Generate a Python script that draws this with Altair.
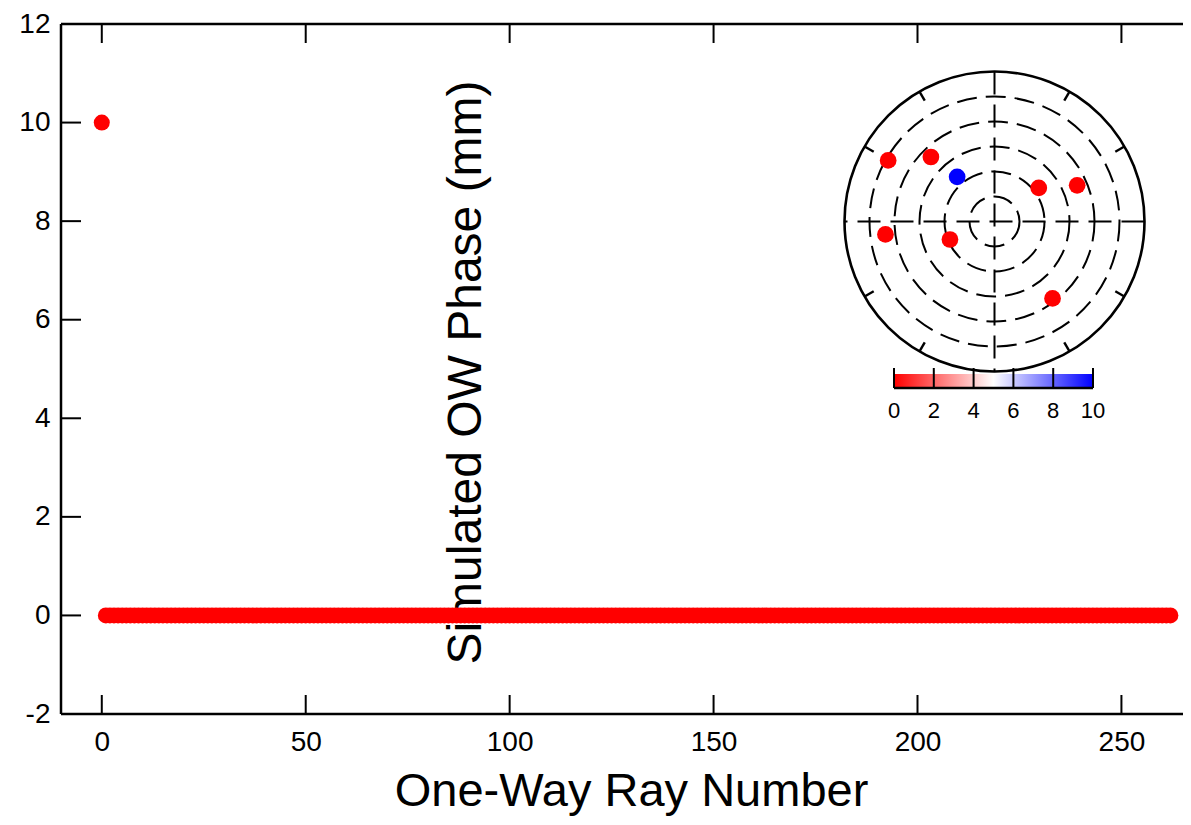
import math
import altair as alt
import pandas as pd

# ---------------- data ----------------
ray_number = list(range(0, 263))
ow_phase = [10.0] + [0.0] * 262

x_tick_values = [0, 50, 100, 150, 200, 250]
y_tick_values = [-2, 0, 2, 4, 6, 8, 10, 12]

# inset sky plot (normalised east / north positions of the stations)
sky_east = [-0.709, -0.424, -0.249, 0.295, 0.551, -0.727, -0.297, 0.387]
sky_north = [0.407, 0.430, 0.298, 0.224, 0.241, -0.086, -0.120, -0.513]
sky_phase = [0, 0, 10, 0, 0, 0, 0, 0]

ring_radius = [1 / 6, 2 / 6, 3 / 6, 4 / 6, 5 / 6]
outer_radius = [1.0]
axis_azimuth = [0, 90]
tick_azimuth = [30, 60, 120, 150, 210, 240, 300, 330]
cbar_values = [0, 2, 4, 6, 8, 10]

# ---------------- layout ----------------
W_VIEW = 1122       # visible part of the plot area
W_FULL = 1142       # full plot frame (right edge lies just outside the page)
H = 690
FONT = "Liberation Sans"

main_x = alt.Scale(domain=[-10, 270], range=[0, W_FULL], nice=False, zero=False)
main_y = alt.Scale(domain=[-2, 12], nice=False, zero=False)

main_df = pd.DataFrame({"ray": ray_number, "phase": ow_phase})

points = alt.Chart(main_df).mark_point(
    shape="circle", filled=True, color="#ff0000", size=256, opacity=1
).encode(
    x=alt.X(
        "ray:Q",
        scale=main_x,
        axis=alt.Axis(
            values=x_tick_values,
            ticks=False,
            tickSize=0,
            domain=False,
            grid=False,
            labelFontSize=28,
            labelPadding=14,
            labelColor="black",
            labelFont=FONT,
            labelExpr="datum.value + ''",
            title="One-Way Ray Number",
            titleFont=FONT,
            titleFontSize=47,
            titleFontWeight="normal",
            titleColor="black",
            titleX=570,
            titleY=91,
            titleAlign="center",
            titleBaseline="alphabetic",
        ),
    ),
    y=alt.Y(
        "phase:Q",
        scale=main_y,
        axis=alt.Axis(
            values=y_tick_values,
            ticks=False,
            tickSize=0,
            domain=False,
            grid=False,
            labelFontSize=28,
            labelPadding=11,
            labelColor="black",
            labelFont=FONT,
            labelExpr="datum.value + ''",
            title="Simulated OW Phase (mm)",
            titleFont=FONT,
            titleFontSize=48,
            titleFontWeight="normal",
            titleColor="black",
            titleAngle=270,
            titleX=419,
            titleY=348,
            titleAlign="center",
            titleBaseline="alphabetic",
        ),
    ),
)

frame_df = pd.DataFrame({"k": [0]})
frame_style = dict(color="black", strokeWidth=2.5)
frame_top = alt.Chart(frame_df).mark_rule(**frame_style).encode(
    x=alt.value(0), x2=alt.value(W_FULL), y=alt.value(0)
)
frame_bottom = alt.Chart(frame_df).mark_rule(**frame_style).encode(
    x=alt.value(0), x2=alt.value(W_FULL), y=alt.value(H)
)
frame_left = alt.Chart(frame_df).mark_rule(**frame_style).encode(
    x=alt.value(0), y=alt.value(0), y2=alt.value(H)
)

xt_df = pd.DataFrame({"v": x_tick_values})
yt_df = pd.DataFrame({"v": y_tick_values})
tick_style = dict(color="black", strokeWidth=2)
bottom_ticks = alt.Chart(xt_df).mark_rule(**tick_style).encode(
    x=alt.X("v:Q", scale=main_x), y=alt.value(H), y2=alt.value(H - 19)
)
top_ticks = alt.Chart(xt_df).mark_rule(**tick_style).encode(
    x=alt.X("v:Q", scale=main_x), y=alt.value(0), y2=alt.value(19)
)
left_ticks = alt.Chart(yt_df).mark_rule(**tick_style).encode(
    y=alt.Y("v:Q", scale=main_y), x=alt.value(0), x2=alt.value(20)
)

main = alt.layer(
    frame_top, frame_bottom, frame_left,
    bottom_ticks, top_ticks, left_ticks, points
)

# ---------------- inset polar plot ----------------
CX, CY, R = 933.5, 197.5, 150
sx = alt.Scale(domain=[-1, 1], range=[CX - R, CX + R], nice=False, zero=False)
sy = alt.Scale(domain=[-1, 1], range=[CY + R, CY - R], nice=False, zero=False)
size_scale = alt.Scale(type="pow", exponent=2, domain=[0, 1], range=[0, (2 * R) ** 2])

rings_df = pd.DataFrame({"r": ring_radius, "cx": 0.0, "cy": 0.0})
outer_df = pd.DataFrame({"r": outer_radius, "cx": 0.0, "cy": 0.0})

rings = alt.Chart(rings_df).mark_point(
    shape="circle", filled=False, stroke="black", strokeWidth=2,
    strokeDash=[20, 9], opacity=1
).encode(
    x=alt.X("cx:Q", scale=sx, axis=None),
    y=alt.Y("cy:Q", scale=sy, axis=None),
    size=alt.Size("r:Q", scale=size_scale, legend=None),
)
outer = alt.Chart(outer_df).mark_point(
    shape="circle", filled=False, stroke="black", strokeWidth=2.6, opacity=1
).encode(
    x=alt.X("cx:Q", scale=sx, axis=None),
    y=alt.Y("cy:Q", scale=sy, axis=None),
    size=alt.Size("r:Q", scale=size_scale, legend=None),
)

ax_rows = []
for az in axis_azimuth:
    a = math.radians(az)
    ax_rows.append({"x": math.sin(a), "y": math.cos(a), "x2": -math.sin(a), "y2": -math.cos(a)})
axes_df = pd.DataFrame(ax_rows)
radial = alt.Chart(axes_df).mark_rule(color="black", strokeWidth=2, strokeDash=[23, 10]).encode(
    x=alt.X("x:Q", scale=sx, axis=None), x2="x2:Q",
    y=alt.Y("y:Q", scale=sy, axis=None), y2="y2:Q",
)

tk_rows = []
for az in tick_azimuth:
    a = math.radians(az)
    tk_rows.append({"x": math.sin(a), "y": math.cos(a),
                    "x2": 0.93 * math.sin(a), "y2": 0.93 * math.cos(a)})
tk_df = pd.DataFrame(tk_rows)
az_ticks = alt.Chart(tk_df).mark_rule(color="black", strokeWidth=2.4).encode(
    x=alt.X("x:Q", scale=sx, axis=None), x2="x2:Q",
    y=alt.Y("y:Q", scale=sy, axis=None), y2="y2:Q",
)

sky_df = pd.DataFrame({"e": sky_east, "n": sky_north, "phase": sky_phase})
sky_pts = alt.Chart(sky_df).mark_point(shape="circle", filled=True, size=280, opacity=1).encode(
    x=alt.X("e:Q", scale=sx, axis=None),
    y=alt.Y("n:Q", scale=sy, axis=None),
    color=alt.Color(
        "phase:Q",
        scale=alt.Scale(domain=[0, 5, 10], range=["#ff0000", "#ffffff", "#0000ff"]),
        legend=None,
    ),
)

polar = alt.layer(rings, radial, outer, az_ticks, sky_pts)

# ---------------- colour bar ----------------
cbx = alt.Scale(domain=[0, 10], range=[833, 1032], nice=False, zero=False)
cb_df = pd.DataFrame({"lo": [cbar_values[0]], "hi": [cbar_values[-1]]})
cb_ticks_df = pd.DataFrame({"v": cbar_values, "label": [str(v) for v in cbar_values]})

cb_fill = alt.Chart(cb_df).mark_rect(
    fill=alt.Gradient(
        gradient="linear",
        stops=[
            alt.GradientStop(color="#ff0000", offset=0),
            alt.GradientStop(color="#ffffff", offset=0.5),
            alt.GradientStop(color="#0000ff", offset=1),
        ],
        x1=0, x2=1, y1=0, y2=0,
    )
).encode(
    x=alt.X("lo:Q", scale=cbx, axis=None), x2="hi:Q",
    y=alt.value(350), y2=alt.value(363),
)
cb_base = alt.Chart(cb_df).mark_rule(color="black", strokeWidth=2.4).encode(
    x=alt.X("lo:Q", scale=cbx, axis=None), x2="hi:Q", y=alt.value(364)
)
cb_ticks = alt.Chart(cb_ticks_df).mark_rule(color="black", strokeWidth=2).encode(
    x=alt.X("v:Q", scale=cbx, axis=None), y=alt.value(344), y2=alt.value(364)
)
cb_labels = alt.Chart(cb_ticks_df).mark_text(
    font=FONT, fontSize=22, color="black", baseline="middle", align="center"
).encode(
    x=alt.X("v:Q", scale=cbx, axis=None), y=alt.value(387), text="label:N"
)
colorbar = alt.layer(cb_fill, cb_base, cb_ticks, cb_labels)

chart = alt.layer(main, polar, colorbar).resolve_scale(
    x="independent", y="independent", color="independent", size="independent"
).properties(
    width=W_VIEW,
    height=H,
    autosize=alt.AutoSizeParams(type="none"),
    padding={"left": 53, "top": 16, "right": 0, "bottom": 103},
).configure(
    font=FONT
).configure_view(
    strokeWidth=0
)

chart.save("out.html", embed_options={"renderer": "svg", "actions": False})
